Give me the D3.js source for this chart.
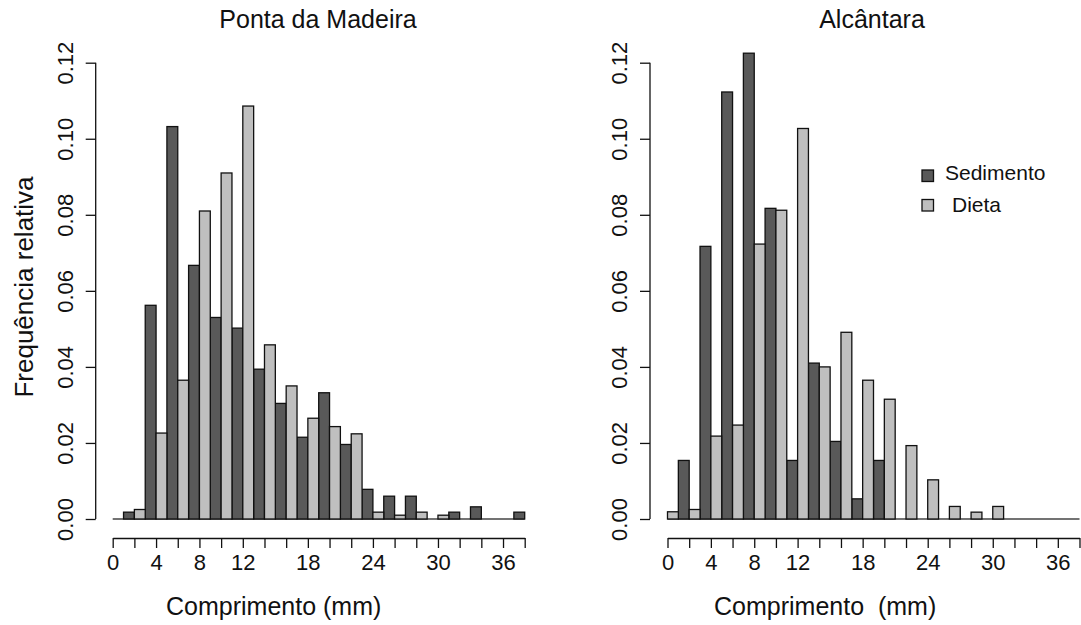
<!DOCTYPE html>
<html>
<head>
<meta charset="utf-8">
<script src="https://cdn.jsdelivr.net/npm/d3@7"></script>
<style>
  body { margin: 0; background: #fff; }
  text { font-family: "Liberation Sans", Arial, sans-serif; fill: #111; }
</style>
</head>
<body>
<div id="chart"></div>
<script>
// bins of 1 mm; "Sedimento" bins start at 1,3,5,...,37 and "Dieta" bins at 0,2,4,...,36
var sedStarts = d3.range(1, 38, 2);
var dietaStarts = d3.range(0, 37, 2);

var sedPonta = [0.0018, 0.0562, 0.1032, 0.0667, 0.053, 0.0502, 0.0394, 0.0304, 0.0215, 0.0332,
                0.0196, 0.0078, 0.006, 0.006, 0, 0.0018, 0.0032, 0, 0.0018];
var dietaPonta = [0, 0.0025, 0.0226, 0.0365, 0.081, 0.091, 0.1086, 0.0458, 0.035, 0.0265,
                  0.0243, 0.0224, 0.0018, 0.001, 0.0018, 0.001, 0, 0, 0];

var sedAlc = [0.0154, 0.0717, 0.1123, 0.1225, 0.0817, 0.0154, 0.041, 0.0204, 0.0053, 0.0154,
              0, 0, 0, 0, 0, 0, 0, 0, 0];
var dietaAlc = [0.0019, 0.0025, 0.0218, 0.0247, 0.0723, 0.0812, 0.1027, 0.040, 0.0491, 0.0365,
                0.0315, 0.0193, 0.0103, 0.0033, 0.0018, 0.0033, 0, 0, 0];

var xTickLabels = [0, 4, 8, 12, 18, 24, 30, 36];
var xTickMarks = d3.range(0, 39, 2);
var yTicks = [0, 0.02, 0.04, 0.06, 0.08, 0.10, 0.12];
var seriesNames = ["Sedimento", "Dieta"];
var colors = { sed: "#595959", dieta: "#bfbfbf" };

var W = 1081, H = 625;
var svg = d3.select("#chart").append("svg")
  .attr("width", W)
  .attr("height", H);

svg.append("rect").attr("width", W).attr("height", H).attr("fill", "#fff");

var y = d3.scaleLinear().domain([0, 0.12]).range([519, 62.7]);

/*
 * draw one histogram panel
 */
function drawPanel(opt) {
  var x = d3.scaleLinear().domain([0, 38]).range([opt.x0, opt.x0 + 412]);
  var g = svg.append("g");

  // baseline
  g.append("line")
    .attr("x1", x(0)).attr("x2", x(38))
    .attr("y1", y(0)).attr("y2", y(0))
    .attr("stroke", "#444").attr("stroke-width", 1.5);

  var bars = [];
  opt.sed.forEach(function(v, i) { bars.push({ start: sedStarts[i], v: v, c: colors.sed }); });
  opt.dieta.forEach(function(v, i) { bars.push({ start: dietaStarts[i], v: v, c: colors.dieta }); });

  g.selectAll("rect.bar")
    .data(bars.filter(function(d) { return d.v > 0; }))
    .enter().append("rect")
    .attr("class", "bar")
    .attr("x", function(d) { return x(d.start); })
    .attr("width", function(d) { return x(d.start + 1) - x(d.start); })
    .attr("y", function(d) { return y(d.v); })
    .attr("height", function(d) { return y(0) - y(d.v); })
    .attr("fill", function(d) { return d.c; })
    .attr("stroke", "#111")
    .attr("stroke-width", 1.3);

  // y axis
  var yAxis = d3.axisLeft(y).tickValues(yTicks).tickSize(10).tickFormat(d3.format(".2f"));
  var ya = g.append("g")
    .attr("transform", "translate(" + opt.yAxisX + ",0)")
    .call(yAxis);
  ya.select(".domain").attr("d", "M0," + y(0.12) + "V" + y(0)).attr("stroke", "#111").attr("stroke-width", 1.3);
  ya.selectAll(".tick line").attr("stroke", "#111").attr("stroke-width", 1.3);
  ya.selectAll(".tick text")
    .attr("x", 0).attr("y", 0).attr("dy", 0)
    .attr("transform", "translate(-23,0) rotate(-90)")
    .attr("text-anchor", "middle")
    .style("font-size", "22px")
    .style("font-family", "Liberation Sans, Arial, sans-serif")
    .attr("fill", "#222");

  // x axis
  var xAxis = d3.axisBottom(x).tickValues(xTickMarks).tickSize(10).tickSizeOuter(0)
    .tickFormat(function(d) { return xTickLabels.indexOf(d) >= 0 ? d : ""; });
  var xa = g.append("g")
    .attr("transform", "translate(0,538)")
    .call(xAxis);
  xa.select(".domain").attr("stroke", "#111").attr("stroke-width", 1.3);
  xa.selectAll(".tick line").attr("stroke", "#111").attr("stroke-width", 1.3);
  xa.selectAll(".tick text")
    .attr("y", 16).attr("dy", "0.71em")
    .style("font-size", "22px")
    .style("font-family", "Liberation Sans, Arial, sans-serif")
    .attr("fill", "#222");

  // title
  g.append("text")
    .attr("x", opt.titleX).attr("y", 28)
    .attr("text-anchor", "middle")
    .style("font-size", "25px")
    .text(opt.title);

  // x label
  g.append("text")
    .attr("x", opt.xLabelX).attr("y", 615)
    .style("font-size", "25px")
    .style("white-space", "pre")
    .attr("xml:space", "preserve")
    .text(opt.xLabel);
}

drawPanel({
  x0: 112.7, yAxisX: 95.7, sed: sedPonta, dieta: dietaPonta,
  title: "Ponta da Madeira", titleX: 318, xLabel: "Comprimento (mm)", xLabelX: 166
});
drawPanel({
  x0: 667.5, yAxisX: 650, sed: sedAlc, dieta: dietaAlc,
  title: "Alcântara", titleX: 872, xLabel: "Comprimento  (mm)", xLabelX: 714
});

// y label
svg.append("text")
  .attr("transform", "translate(33,287) rotate(-90)")
  .attr("text-anchor", "middle")
  .style("font-size", "26px")
  .text("Frequência relativa");

// legend
var legend = svg.append("g");
var legendColors = [colors.sed, colors.dieta];
var legendTextX = [945, 952];
seriesNames.forEach(function(name, i) {
  legend.append("rect")
    .attr("x", 922).attr("y", 170 + i * 29.5)
    .attr("width", 11.5).attr("height", 11.5)
    .attr("fill", legendColors[i])
    .attr("stroke", "#111").attr("stroke-width", 1.3);
  legend.append("text")
    .attr("x", legendTextX[i]).attr("y", 180 + i * 32)
    .style("font-size", "21px")
    .text(name);
});
</script>
</body>
</html>
